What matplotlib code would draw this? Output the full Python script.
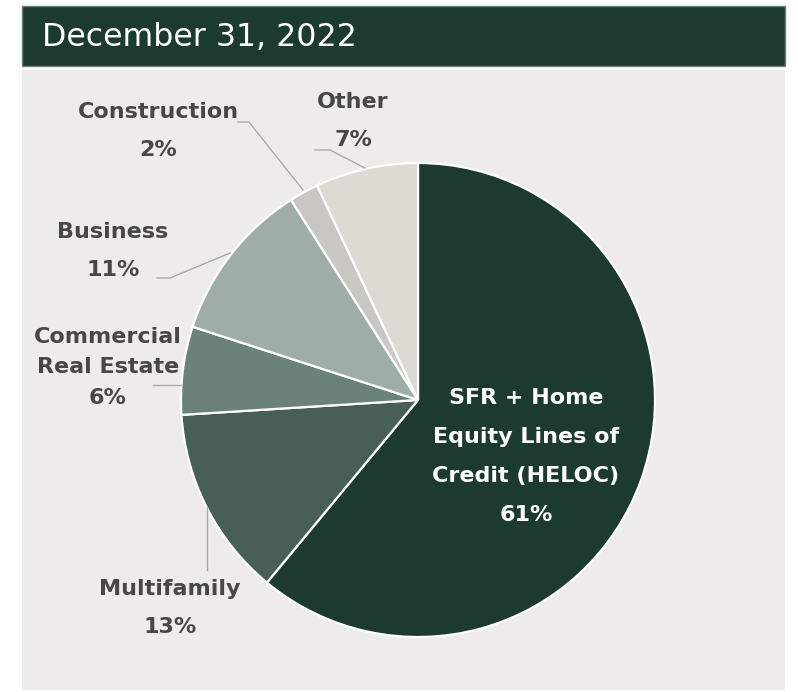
import matplotlib
matplotlib.use("Agg")
import matplotlib.pyplot as plt
from matplotlib.patches import Rectangle

# loan mix as of year end
title = "December 31, 2022"
categories = ["SFR + Home\nEquity Lines of\nCredit (HELOC)", "Multifamily",
              "Commercial\nReal Estate", "Business", "Construction", "Other"]
shares = [61, 13, 6, 11, 2, 7]
colors = ["#1c3a2e", "#475f55", "#6b8279", "#9fada7", "#c9c7c1", "#ddd9d3"]

W, H = 798, 692
BG = "#eeece9"
TXT = "#474747"
LINE = "#a9a9a6"

fig = plt.figure(figsize=(W / 100, H / 100), dpi=100)
fig.patch.set_facecolor("white")
ax = fig.add_axes([0, 0, 1, 1])
ax.set_xlim(0, W)
ax.set_ylim(0, H)
ax.set_aspect("equal")
ax.axis("off")

def Y(y):
    # convert top-down pixel row to axis y
    return H - y

# panel and header bar
ax.add_patch(Rectangle((22, Y(690)), 763, 620, facecolor=BG, edgecolor="none", zorder=0))
ax.add_patch(Rectangle((22, Y(66)), 763, 60, facecolor="#1c3a2f", edgecolor="#6f8078",
                       linewidth=1.0, zorder=1))
ax.text(42, Y(37), title, color="white", fontsize=22.8, family="DejaVu Sans",
        ha="left", va="center", zorder=2)

cx, cy, r = 418, Y(400), 237
ax.pie(shares, colors=colors, startangle=90, counterclock=False,
       center=(cx, cy), radius=r, frame=True,
       wedgeprops=dict(edgecolor="white", linewidth=1.6))
ax.set_xlim(0, W)
ax.set_ylim(0, H)
ax.axis("off")

font = dict(family="DejaVu Sans", fontweight="bold", fontsize=16, color=TXT,
            ha="center", va="center")

def label(x, y, name, pct, gap=38):
    lines = name.split("\n")
    for i, ln in enumerate(lines):
        ax.text(x, Y(y + i * 30), ln, **font)
    ax.text(x, Y(y + (len(lines) - 1) * 30 + gap), f"{pct}%", **font)

label(158, 112, categories[4], shares[4])
label(353, 102, categories[5], shares[5])
label(113, 232, categories[3], shares[3])
label(108, 337, categories[2], shares[2], gap=31)
label(170, 589, categories[1], shares[1])

# white label inside the largest slice
for i, ln in enumerate(categories[0].split("\n") + [f"{shares[0]}%"]):
    ax.text(526, Y(398 + i * 39), ln, family="DejaVu Sans", fontweight="bold",
            fontsize=16, color="white", ha="center", va="center")

# leader lines
leaders = [
    [(238, 122), (249, 122), (303, 190)],
    [(315, 150), (330, 150), (365, 168)],
    [(157, 278), (170, 278), (230, 253)],
    [(153, 385), (181, 385)],
    [(207, 507), (207, 570)],
]
for pts in leaders:
    ax.plot([p[0] for p in pts], [Y(p[1]) for p in pts], color=LINE, lw=1.0, zorder=3)

fig.savefig("out.png", dpi=100, facecolor=fig.get_facecolor())
